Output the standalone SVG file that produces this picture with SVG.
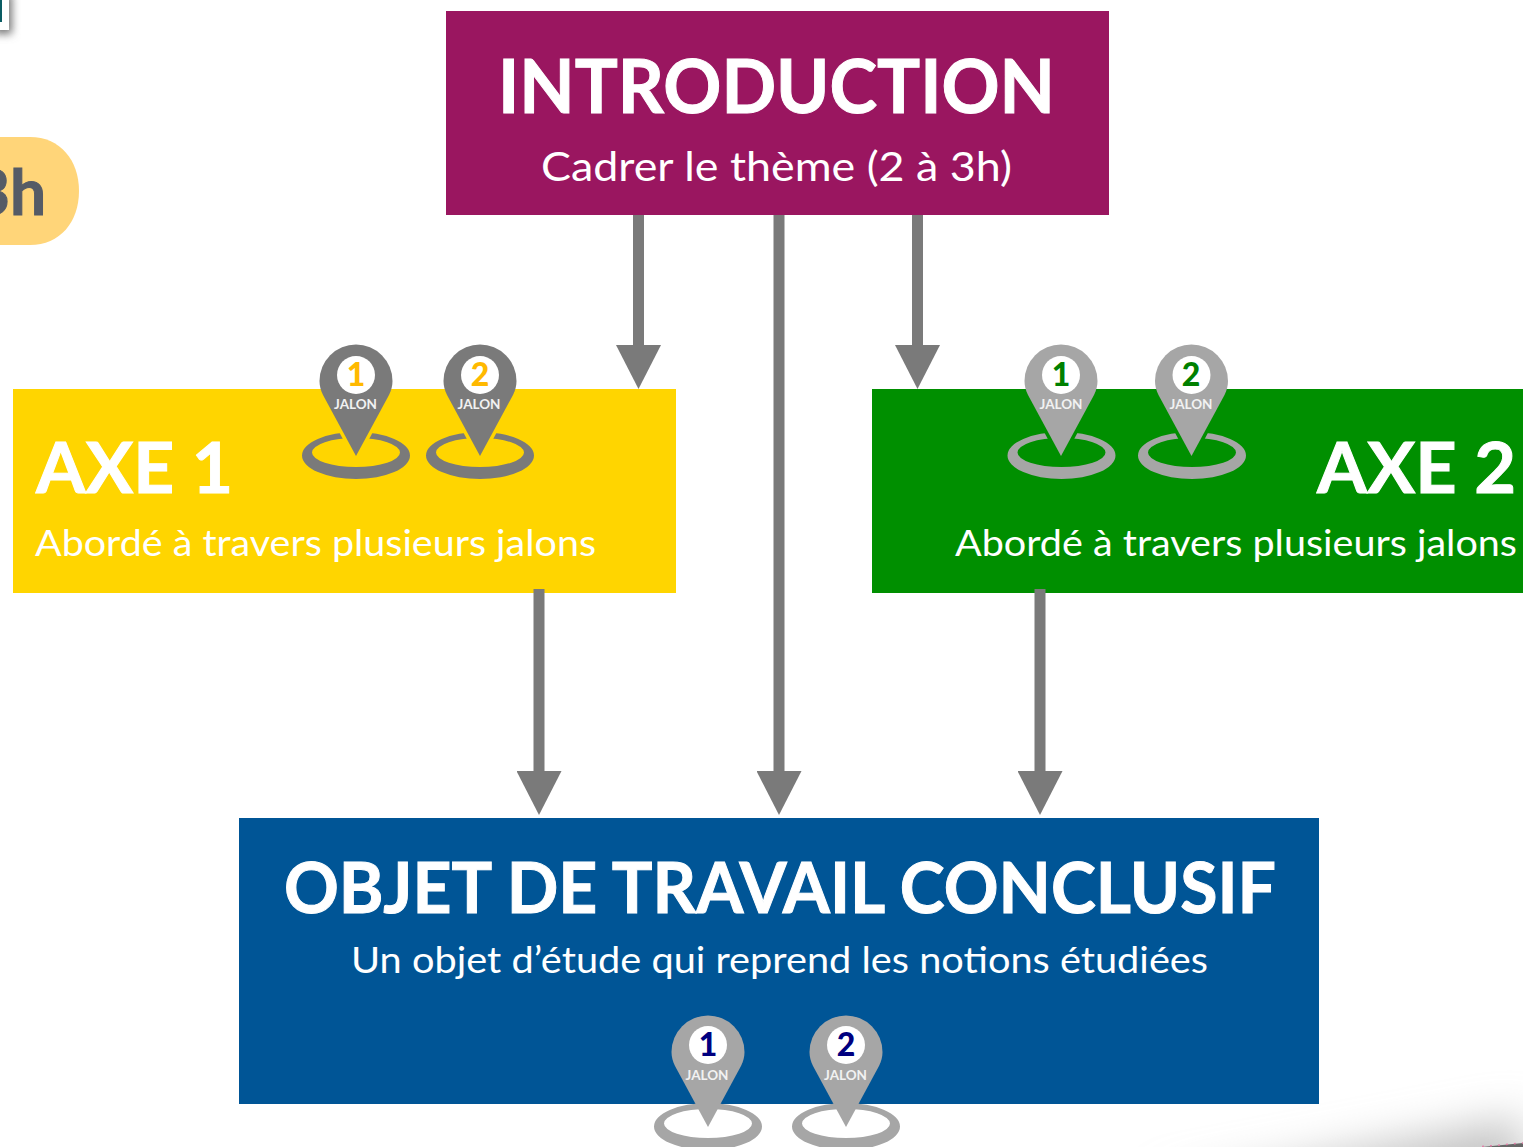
<svg xmlns="http://www.w3.org/2000/svg" width="1523" height="1147" viewBox="0 0 1523 1147">
<style>
text{font-family:Lato,"Liberation Sans",sans-serif}
.t{fill:#fff;font-weight:700;stroke:#fff;stroke-width:1px}
.s{fill:#fff;font-weight:400}
.j{fill:#f2f2f2;font-weight:700;font-size:13.500px;text-anchor:middle}
.n{font-weight:900;font-size:32px;text-anchor:middle}
.d{fill:#7a7a7a}.l{fill:#a6a6a6}
.a{stroke:#7a7a7a;stroke-width:11;fill:none;marker-end:url(#ah)}
</style>
<defs>
<marker id="ah" markerUnits="userSpaceOnUse" markerWidth="44" markerHeight="45" refX="0" refY="22.500" orient="auto" viewBox="0 0 44 45"><path d="M0 0L44 22.500L0 45Z" fill="#7a7a7a"/></marker>
<filter id="b1" x="-30%" y="-100%" width="160%" height="300%"><feGaussianBlur stdDeviation="22"/></filter>
<filter id="b2" x="-50%" y="-50%" width="200%" height="200%"><feGaussianBlur stdDeviation="4"/></filter>
<path id="ring" fill-rule="evenodd" d="M-54 0A54 23.500 0 1 0 54 0A54 23.500 0 1 0-54 0ZM-44 -3A44 14.500 0 1 1 44 -3A44 14.500 0 1 1-44 -3Z"/>
<path id="pin" d="M0 111L-33 50C-35.500 45-36.500 40-36.500 36A36.500 36.500 0 1 1 36.500 36C36.500 40 35.500 45 33 50Z"/>
</defs>
<rect width="1523" height="1147" fill="#fff"/>
<g id="page-shadow"><path d="M1150 1190L1523 1118V1190Z" fill="#c2c2c2" filter="url(#b1)"/><path d="M1482 1147L1523 1143V1147Z" fill="#666"/><path d="M1482 1146.500L1523 1143" stroke="#e080a8" stroke-width="1.500" stroke-dasharray="2 6" fill="none"/></g>
<g id="thumbnail"><rect x="-6" y="-6" width="18" height="40" fill="#777" filter="url(#b2)"/><rect x="-2" y="-2" width="11" height="32" fill="#fff"/><rect x="0" y="0" width="2" height="22" fill="#0a5c63"/></g>
<g id="duration"><path d="M-40 137H30C60 137 79 160 79 191C79 222 60 245 30 245H-40Z" fill="#ffd579"/><text x="-27" y="215" font-size="64" font-weight="700" fill="#555b66" stroke="#555b66" stroke-width="1">3h</text></g>
<g id="intro"><rect x="446" y="11" width="663" height="204" fill="#9a1660"/><text class="t" x="498" y="113" font-size="75" textLength="557" lengthAdjust="spacingAndGlyphs">INTRODUCTION</text><text class="s" x="541" y="181" font-size="41" textLength="471" lengthAdjust="spacingAndGlyphs">Cadrer le thème (2 à 3h)</text></g>
<g id="axe1"><rect x="13" y="389" width="663" height="204" fill="#ffd500"/><text class="t" x="36" y="493" font-size="71" textLength="197" lengthAdjust="spacingAndGlyphs">AXE 1</text><text class="s" x="35" y="556" font-size="36" textLength="561" lengthAdjust="spacingAndGlyphs">Abordé à travers plusieurs jalons</text></g>
<g id="axe2"><rect x="872" y="389" width="651" height="204" fill="#008f00"/><text class="t" x="1317" y="493" font-size="71" textLength="199" lengthAdjust="spacingAndGlyphs">AXE 2</text><text class="s" x="955" y="556" font-size="36" textLength="562" lengthAdjust="spacingAndGlyphs">Abordé à travers plusieurs jalons</text></g>
<g id="objet"><rect x="239" y="818" width="1080" height="286" fill="#005596"/><text class="t" x="284" y="913" font-size="71" textLength="992" lengthAdjust="spacingAndGlyphs">OBJET DE TRAVAIL CONCLUSIF</text><text class="s" x="351" y="973" font-size="36" textLength="857" lengthAdjust="spacingAndGlyphs">Un objet d’étude qui reprend les notions étudiées</text></g>
<g id="connectors">
<line class="a" x1="638.500" y1="215" x2="638.500" y2="345"/>
<line class="a" x1="779" y1="215" x2="779" y2="771"/>
<line class="a" x1="917.500" y1="215" x2="917.500" y2="345"/>
<line class="a" x1="539" y1="589" x2="539" y2="771"/>
<line class="a" x1="1040" y1="589" x2="1040" y2="771"/>
</g>
<g id="jalon-a1-1"><use href="#ring" x="356" y="455.500" class="d"/><path d="M337 428H375L366 445H346Z" fill="#ffd500"/><use href="#pin" x="356" y="345" class="d"/><circle cx="356" cy="375" r="19" fill="#fff"/><text class="n" x="356" y="386" fill="#ffb900">1</text><text class="j" x="355.500" y="409">JALON</text></g>
<g id="jalon-a1-2"><use href="#ring" x="480" y="455.500" class="d"/><path d="M461 428H499L490 445H470Z" fill="#ffd500"/><use href="#pin" x="480" y="345" class="d"/><circle cx="480" cy="375" r="19" fill="#fff"/><text class="n" x="480" y="386" fill="#ffb900">2</text><text class="j" x="479" y="409">JALON</text></g>
<g id="jalon-a2-1"><use href="#ring" x="1061.500" y="455.500" class="l"/><path d="M1042 428H1080L1071 445H1051Z" fill="#008f00"/><use href="#pin" x="1061" y="345" class="l"/><circle cx="1061" cy="375" r="19" fill="#fff"/><text class="n" x="1061" y="386" fill="#008000">1</text><text class="j" x="1061" y="409">JALON</text></g>
<g id="jalon-a2-2"><use href="#ring" x="1192" y="455.500" class="l"/><path d="M1172.500 428H1210.500L1201.500 445H1181.500Z" fill="#008f00"/><use href="#pin" x="1191.500" y="345" class="l"/><circle cx="1191.500" cy="375" r="19" fill="#fff"/><text class="n" x="1191" y="386" fill="#008000">2</text><text class="j" x="1191" y="409">JALON</text></g>
<g id="jalon-o-1"><use href="#ring" x="708" y="1126.500" class="l"/><use href="#pin" x="708" y="1016" class="l"/><circle cx="708" cy="1045" r="19" fill="#fff"/><text class="n" x="708" y="1056" fill="#000080">1</text><text class="j" x="707" y="1080">JALON</text></g>
<g id="jalon-o-2"><use href="#ring" x="846" y="1126.500" class="l"/><use href="#pin" x="846" y="1016" class="l"/><circle cx="846" cy="1045" r="19" fill="#fff"/><text class="n" x="846" y="1056" fill="#000080">2</text><text class="j" x="845.500" y="1080">JALON</text></g>
</svg>
